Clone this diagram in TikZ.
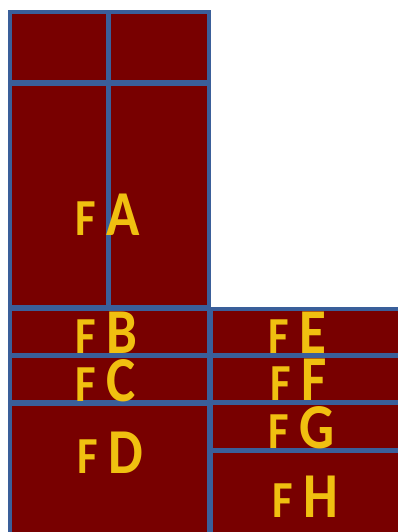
\documentclass[tikz,border=0pt]{standalone}
\usepackage{fontspec}
\setmainfont{Carlito}
\definecolor{cellred}{HTML}{780000}
\definecolor{cellblue}{HTML}{3A5F9A}
\definecolor{gold}{HTML}{F0C010}
\newcommand{\lbl}[1]{\scalebox{0.86}[1]{\bfseries\fontsize{52}{60}\selectfont F\hspace{12pt}\fontsize{64}{70}\selectfont #1}}
\begin{document}
\begin{tikzpicture}[x=1pt,y=-1pt,
  cell/.style={draw=cellblue, line width=3.2pt, fill=cellred},
  lab/.style={anchor=base west, inner sep=0pt, text=gold}]
\useasboundingbox (0,0) rectangle (398,532);
\begin{scope}
\clip (0,0) rectangle (398,532);
\draw[cell] (10,12) rectangle (108,82);
\draw[cell] (109,12) rectangle (209,82);
\draw[cell] (10,84) rectangle (108,307);
\draw[cell] (109,84) rectangle (209,307);
\draw[cell] (10,309) rectangle (209,355);
\draw[cell] (10,356) rectangle (209,402);
\draw[cell] (10,404) rectangle (209,540);
\draw[cell] (211,309) rectangle (402,355);
\draw[cell] (211,356) rectangle (402,402);
\draw[cell] (211,403) rectangle (402,450);
\draw[cell] (211,451) rectangle (402,540);
\end{scope}
\node[lab] (la) at (75,235) {\lbl{A}};
\node[lab] (lb) at (75,353) {\lbl{B}};
\node[lab] (lc) at (75,401) {\lbl{C}};
\node[lab] (ld) at (77,473) {\lbl{D}};
\node[lab] (le) at (268,353) {\lbl{E}};
\node[lab] (lf) at (270,400) {\lbl{F}};
\node[lab] (lg) at (268,448) {\lbl{G}};
\node[lab] (lh) at (272,517) {\lbl{H}};
\end{tikzpicture}
\end{document}
